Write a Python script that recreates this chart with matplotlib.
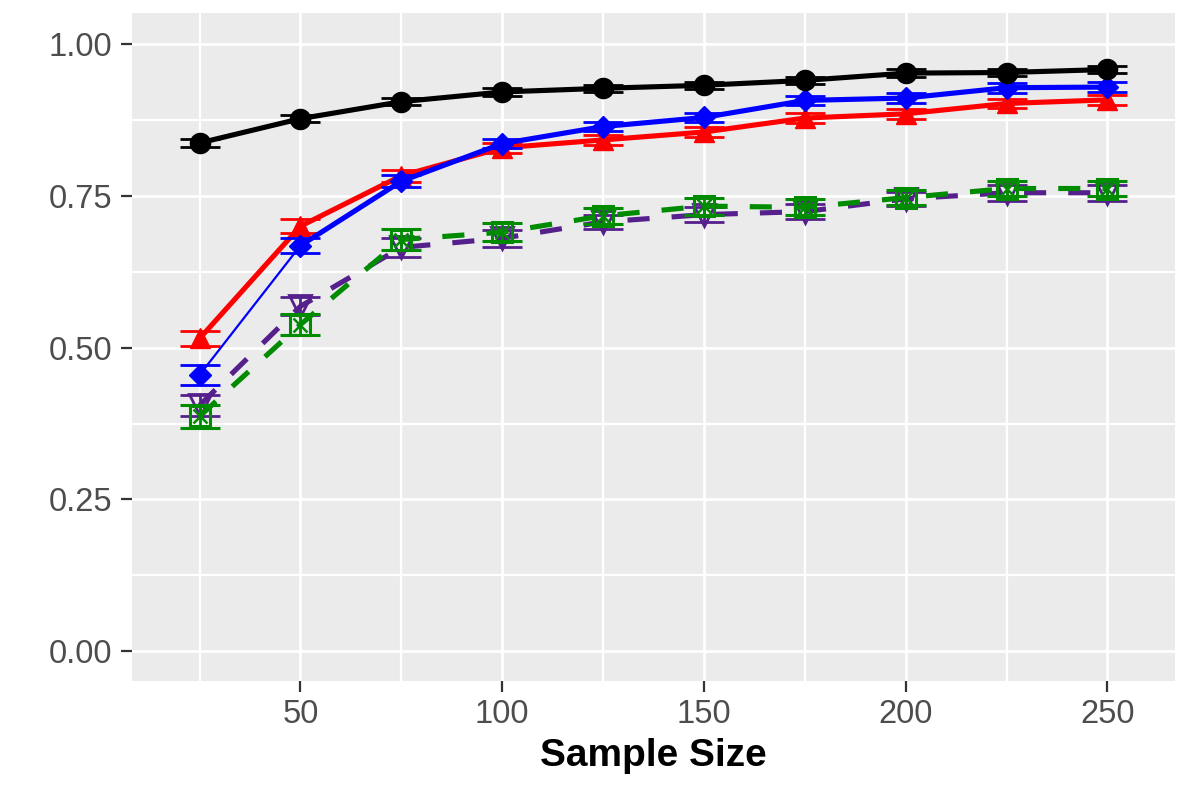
import matplotlib.pyplot as plt
from matplotlib.ticker import MultipleLocator

# sample sizes and mean values
sample_size = [25, 50, 75, 100, 125, 150, 175, 200, 225, 250]

black_y = [0.837, 0.877, 0.905, 0.921, 0.927, 0.932, 0.940, 0.952, 0.953, 0.958]
black_err = [0.006, 0.006, 0.006, 0.006, 0.006, 0.006, 0.006, 0.006, 0.006, 0.006]

red_y = [0.515, 0.700, 0.783, 0.829, 0.842, 0.855, 0.878, 0.885, 0.902, 0.908]
red_err = [0.012, 0.012, 0.010, 0.008, 0.008, 0.008, 0.008, 0.008, 0.008, 0.008]

blue_y = [0.455, 0.668, 0.774, 0.836, 0.864, 0.879, 0.907, 0.911, 0.928, 0.929]
blue_err = [0.017, 0.012, 0.010, 0.008, 0.008, 0.008, 0.008, 0.008, 0.008, 0.008]

purple_y = [0.405, 0.568, 0.665, 0.680, 0.707, 0.719, 0.724, 0.745, 0.755, 0.755]
purple_err = [0.017, 0.015, 0.016, 0.014, 0.012, 0.012, 0.013, 0.011, 0.013, 0.013]

green_y = [0.387, 0.538, 0.678, 0.690, 0.717, 0.733, 0.731, 0.747, 0.762, 0.762]
green_err = [0.019, 0.018, 0.018, 0.015, 0.013, 0.014, 0.013, 0.012, 0.012, 0.012]

y_ticks = [0.00, 0.25, 0.50, 0.75, 1.00]
x_ticks = [50, 100, 150, 200, 250]

RED = '#FF0000'
BLUE = '#0000FF'
PURPLE = '#55208C'
GREEN = '#008B00'

plt.rcParams['font.family'] = ['Liberation Sans', 'DejaVu Sans']

fig = plt.figure(figsize=(11.96, 7.97), dpi=100)
ax = fig.add_axes([132 / 1196, 1 - 681 / 797, (1175 - 132) / 1196, (681 - 13) / 797])
ax.set_facecolor('#EBEBEB')

ax.xaxis.set_major_locator(MultipleLocator(50))
ax.xaxis.set_minor_locator(MultipleLocator(25))
ax.yaxis.set_major_locator(MultipleLocator(0.25))
ax.yaxis.set_minor_locator(MultipleLocator(0.125))
ax.grid(which='major', color='white', linewidth=2.0)
ax.grid(which='minor', color='white', linewidth=1.6)
ax.set_axisbelow(True)
for s in ax.spines.values():
    s.set_visible(False)

ekw = dict(capsize=14.4, capthick=2.0, elinewidth=2.0)
dash = (0, (4.3, 4.3))
lw = 3.7

# dashed series
ax.errorbar(sample_size, purple_y, yerr=purple_err, color=PURPLE, ecolor=PURPLE,
            linestyle=dash, linewidth=lw, marker='v', markersize=16,
            fillstyle='none', markeredgewidth=2.0, **ekw, zorder=3)
ax.errorbar(sample_size, green_y, yerr=green_err, color=GREEN, ecolor=GREEN,
            linestyle=dash, linewidth=lw, marker='s', markersize=14,
            fillstyle='none', markeredgewidth=2.2, **ekw, zorder=4)
ax.plot(sample_size, green_y, linestyle='none', marker='x', markersize=10,
        color=GREEN, markeredgewidth=1.8, zorder=4)

# solid series
ax.errorbar(sample_size, red_y, yerr=red_err, color=RED, ecolor=RED, linewidth=lw,
            marker='^', markersize=15, **ekw, zorder=5)
ax.plot(sample_size[:2], blue_y[:2], color=BLUE, linewidth=1.6, zorder=6)
ax.plot(sample_size[1:], blue_y[1:], color=BLUE, linewidth=lw, zorder=6)
ax.errorbar(sample_size, blue_y, yerr=blue_err, color=BLUE, ecolor=BLUE, linestyle='none',
            marker='D', markersize=11, **ekw, zorder=6)
ax.errorbar(sample_size, black_y, yerr=black_err, color='black', ecolor='black',
            linewidth=lw, marker='o', markersize=14.5, **ekw, zorder=7)

ax.set_xlim(8.25, 266.75)
ax.set_ylim(-0.049, 1.051)
ax.set_xticks(x_ticks)
ax.set_yticks(y_ticks)
ax.set_yticklabels([f'{v:.2f}' for v in y_ticks])
ax.tick_params(which='major', length=8, width=1.6, color='#333333', labelcolor='#4D4D4D',
               labelsize=23.5, pad=5)
ax.tick_params(axis='y', pad=6)
ax.tick_params(which='minor', length=0)

ax.set_xlabel('Sample Size', fontsize=28, fontweight='bold', color='black', labelpad=6)

fig.savefig('out.png', dpi=100)
